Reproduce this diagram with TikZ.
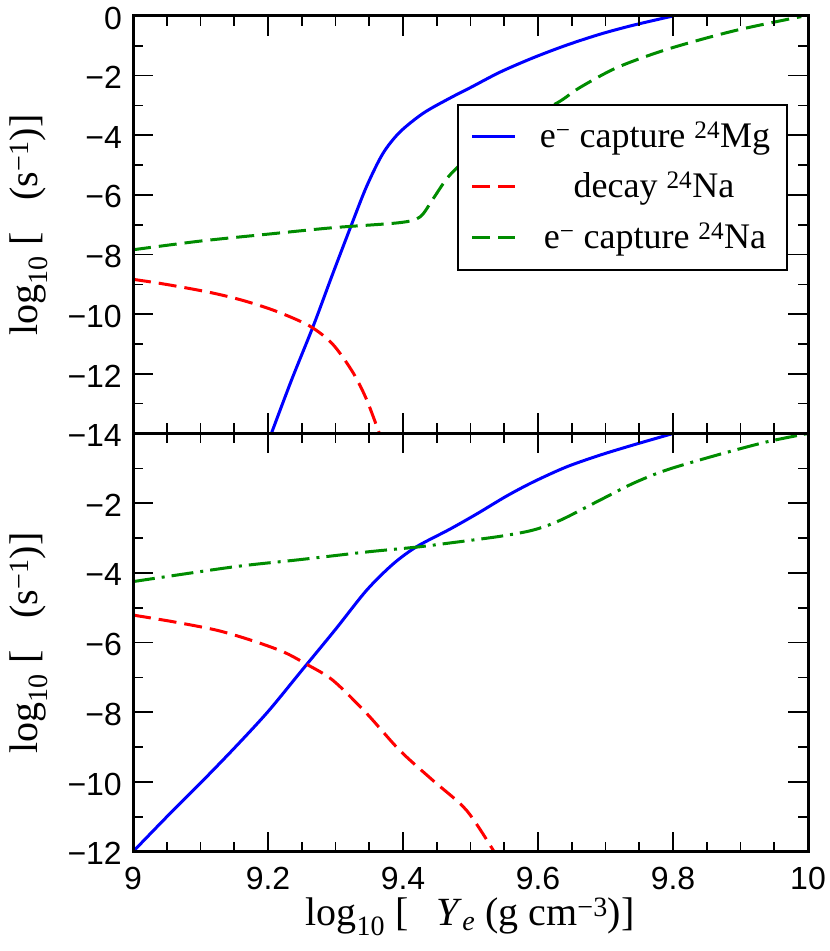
\documentclass[tikz,border=0pt]{standalone}
\usepackage{fontspec}
\setmainfont{Liberation Serif}
\newfontfamily\ticksfont{Liberation Sans}
\usetikzlibrary{positioning}

\definecolor{nagreen}{RGB}{0,140,0}

\tikzset{
  axisline/.style={line width=3pt},
  tickline/.style={line width=1.6pt},
  mgline/.style={blue,line width=3pt},
  decayline/.style={red,line width=3pt,dash pattern=on 18pt off 8pt},
  naline/.style={nagreen,line width=3pt,dash pattern=on 18pt off 8pt},
  nadotline/.style={nagreen,line width=3pt,dash pattern=on 22pt off 7pt on 3pt off 7pt},
  ticklabel/.style={font=\ticksfont\fontsize{32}{32}\selectfont,inner sep=0pt},
  labeltext/.style={font=\fontsize{36}{40}\selectfont,inner sep=0pt},
  axislabel/.style={font=\fontsize{40}{44}\selectfont,inner sep=0pt}
}

\begin{document}
\begin{tikzpicture}[x=1pt,y=1pt,line cap=butt]

\useasboundingbox (0,0) rectangle (830,951);

% upper panel
\begin{scope}[shift={(-5942pt,935pt)},x=675pt,y=29.82pt]
	\begin{scope}
	\clip (9,-14) rectangle (10,0);
	% e- capture on Mg
	\draw[mgline] plot[smooth,tension=0.5] coordinates {(9.205,-14) (9.235,-12.2) (9.267,-10.4)
	      (9.295,-8.7) (9.323,-7.04) (9.346,-5.72) (9.370,-4.62) (9.395,-3.90) (9.430,-3.26)
	      (9.469,-2.76) (9.50,-2.40) (9.544,-1.88) (9.593,-1.40) (9.642,-0.98) (9.692,-0.61)
	      (9.741,-0.31) (9.80,0)};
	% decay of Na
	\draw[decayline] plot[smooth,tension=0.5] coordinates {(9,-8.83) (9.049,-9.0) (9.114,-9.27)
	      (9.163,-9.54) (9.212,-9.90) (9.262,-10.40) (9.296,-11.01) (9.326,-11.96)
	      (9.346,-12.86) (9.365,-14)};
	% e- capture on Na
	\draw[naline] plot[smooth,tension=0.5] coordinates {(9,-7.84) (9.099,-7.55) (9.198,-7.32)
	      (9.296,-7.10) (9.395,-6.93) (9.425,-6.74) (9.444,-6.15) (9.464,-5.48) (9.484,-5.0)
	      (9.52,-4.3) (9.57,-3.55) (9.628,-2.92) (9.662,-2.40) (9.717,-1.73) (9.791,-1.12)
	      (9.89,-0.50) (9.99,-0.02)};
	\end{scope}

	% ticks
	\foreach \i in {1,...,19}
	  \draw[tickline] ({9+0.05*\i},-14) -- ++(0,10pt) ({9+0.05*\i},0) -- ++(0,-10pt);
	\foreach \x in {9.2,9.4,9.6,9.8}
	  \draw[tickline] (\x,-14) -- ++(0,20pt) (\x,0) -- ++(0,-20pt);
	\foreach \v in {-13,...,-1}
	  \draw[tickline] (9,\v) -- ++(10pt,0) (10,\v) -- ++(-10pt,0);
	\foreach \v in {-12,-10,...,-2}
	  \draw[tickline] (9,\v) -- ++(20pt,0) (10,\v) -- ++(-20pt,0);

	% tick labels
	\node[ticklabel,anchor=east] (uplab0) at (9,0) [xshift=-11pt,yshift=-2pt] {0};
	\foreach \v in {2,4,...,14}
	  \node[ticklabel,anchor=east] (uplab\v) at (9,-\v) [xshift=-11pt,yshift=-2pt] {−\v};

	\draw[axisline] (9,-14) rectangle (10,0);
\end{scope}

% lower panel
\begin{scope}[shift={(-5942pt,517.5pt)},x=675pt,y=34.85pt]
	\begin{scope}
	\clip (9,-12) rectangle (10,0);
	% e- capture on Mg
	\draw[mgline] plot[smooth,tension=0.5] coordinates {(9,-12) (9.05,-11.0) (9.10,-10.03)
	      (9.15,-9.03) (9.20,-7.98) (9.25,-6.80) (9.30,-5.62) (9.346,-4.50) (9.385,-3.75)
	      (9.42,-3.25) (9.469,-2.75) (9.51,-2.30) (9.553,-1.80) (9.593,-1.39) (9.642,-0.96)
	      (9.692,-0.62) (9.741,-0.33) (9.80,0)};
	% decay of Na
	\draw[decayline] plot[smooth,tension=0.5] coordinates {(9,-5.21) (9.059,-5.40) (9.123,-5.64)
	      (9.173,-5.92) (9.222,-6.26) (9.257,-6.62) (9.296,-7.08) (9.346,-8.03) (9.395,-9.09)
	      (9.444,-9.95) (9.494,-10.81) (9.535,-12.0)};
	% e- capture on Na
	\draw[nadotline] plot[smooth,tension=0.5] coordinates {(9,-4.25) (9.148,-3.83) (9.247,-3.62)
	      (9.346,-3.40) (9.42,-3.26) (9.47,-3.14) (9.544,-2.95) (9.593,-2.77) (9.633,-2.49)
	      (9.692,-1.91) (9.741,-1.43) (9.79,-1.05) (9.865,-0.62) (9.939,-0.24) (10,0)};
	\end{scope}

	% ticks
	\foreach \i in {1,...,19}
	  \draw[tickline] ({9+0.05*\i},-12) -- ++(0,10pt) ({9+0.05*\i},0) -- ++(0,-10pt);
	\foreach \x in {9.2,9.4,9.6,9.8}
	  \draw[tickline] (\x,-12) -- ++(0,20pt) (\x,0) -- ++(0,-20pt);
	\foreach \v in {-11,...,-1}
	  \draw[tickline] (9,\v) -- ++(10pt,0) (10,\v) -- ++(-10pt,0);
	\foreach \v in {-10,-8,...,-2}
	  \draw[tickline] (9,\v) -- ++(20pt,0) (10,\v) -- ++(-20pt,0);

	% tick labels
	\foreach \v in {2,4,...,12}
	  \node[ticklabel,anchor=east] (lowlab\v) at (9,-\v) [xshift=-11pt,yshift=-2pt] {−\v};
	\foreach \x in {9,9.2,9.4,9.6,9.8,10}
	  \node[ticklabel,anchor=north] (xlab\x) at (\x,-12) [yshift=-15pt] {\x};

	\draw[axisline] (9,-12) rectangle (10,0);
\end{scope}

% legend
\draw[line width=2pt,fill=white] (458,681) rectangle (787,846);
\draw[mgline] (472,814) -- (515,814);
\draw[decayline] (472,764) -- (515,764);
\draw[naline] (472,713) -- (515,713);
\node[labeltext,anchor=base] (legmg) at (655,803) {e\textsuperscript{−} capture \textsuperscript{24}Mg};
\node[labeltext,anchor=base] (legdecay) at (654,753) {decay \textsuperscript{24}Na};
\node[labeltext,anchor=base] (legna) at (655,702) {e\textsuperscript{−} capture \textsuperscript{24}Na};

% axis labels
\node[axislabel,rotate=90] (uplabel) at (29,726) {log\textsubscript{10} [\hspace{32pt}(s\textsuperscript{−1})]};
\node[axislabel,rotate=90] (lowlabel) at (29,308) {log\textsubscript{10} [\hspace{32pt}(s\textsuperscript{−1})]};
\node[axislabel] (xlabel) at (470,34) {log\textsubscript{10} [\hspace{28pt}\textit{Y}\textsubscript{\textit{e}} (g cm\textsuperscript{−3})]};

\end{tikzpicture}
\end{document}
